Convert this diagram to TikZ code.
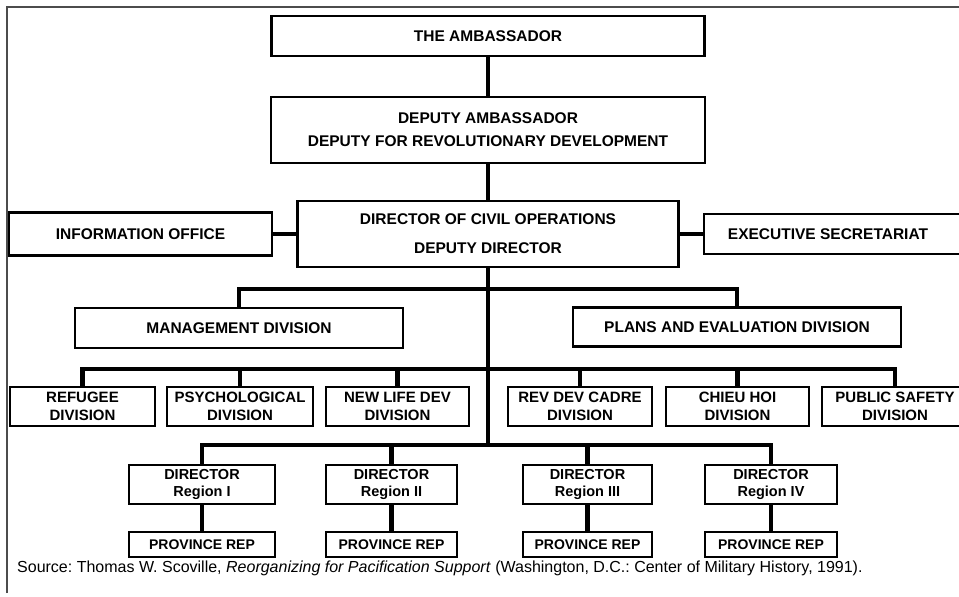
\documentclass[tikz,border=0pt]{standalone}
\usepackage{fontspec}
\setmainfont{Liberation Sans}
\usepackage{tikz}
\usetikzlibrary{positioning}
\frenchspacing

\tikzset{
  unit/.style={draw, line width=2.2pt, inner sep=0pt, align=center, font=\bfseries\fontsize{15.5}{23}\selectfont},
  division/.style={unit, minimum height=39pt, font=\bfseries\fontsize{15}{18}\selectfont},
  region/.style={unit, minimum height=39pt, font=\bfseries\fontsize{14.5}{17}\selectfont},
  province/.style={unit, minimum height=25pt, font=\bfseries\fontsize{14}{16}\selectfont},
  link/.style={line width=4.5pt},
}

\begin{document}
\begin{tikzpicture}[x=1pt, y=-1pt]
            \useasboundingbox (0,0) rectangle (959,597);
            \clip (0,0) rectangle (959,597);
            % frame
            \draw[line width=2pt, black!70] (7,593) -- (7,7) -- (960,7);

            \draw (488,36) node[unit, minimum width=433pt, minimum height=40pt]        (amb) {THE AMBASSADOR};
            \draw (488,130) node[unit, minimum width=434pt, minimum height=66pt]       (dep) {DEPUTY AMBASSADOR\\DEPUTY FOR REVOLUTIONARY DEVELOPMENT};
            \draw (488,234) node[unit, minimum width=381pt, minimum height=66pt]       (dir) {DIRECTOR OF CIVIL OPERATIONS\\[6pt]DEPUTY DIRECTOR};
            \draw (140.5,234) node[unit, minimum width=263pt, minimum height=43pt]     (info) {INFORMATION OFFICE};
            \draw (840,234) node[unit, minimum width=272pt, minimum height=40pt]       (exec) {\hspace*{-12pt}EXECUTIVE SECRETARIAT\hspace*{12pt}};
            \draw (239,328) node[unit, minimum width=328pt, minimum height=40pt]       (mgmt) {MANAGEMENT DIVISION};
            \draw (737,327) node[unit, minimum width=328pt, minimum height=39pt]       (plans) {PLANS AND EVALUATION DIVISION};

            \draw (82.5,406.5) node[division, minimum width=145pt]                     (ref) {REFUGEE\\DIVISION};
            \draw (240,406.5) node[division, minimum width=146pt]                      (psy) {PSYCHOLOGICAL\\DIVISION};
            \draw (397.5,406.5) node[division, minimum width=143pt]                    (nld) {NEW LIFE DEV\\DIVISION};
            \draw (580,406.5) node[division, minimum width=144pt]                      (rdc) {REV DEV CADRE\\DIVISION};
            \draw (737.5,406.5) node[division, minimum width=143pt]                    (chh) {CHIEU HOI\\DIVISION};
            \draw (895,406.5) node[division, minimum width=146pt]                      (pub) {PUBLIC SAFETY\\DIVISION};

            \draw (202,484.5) node[region, minimum width=146pt]                        (r1) {DIRECTOR\\Region I};
            \draw (391.5,484.5) node[region, minimum width=131pt]                      (r2) {DIRECTOR\\Region II};
            \draw (587.5,484.5) node[region, minimum width=129pt]                      (r3) {DIRECTOR\\Region III};
            \draw (771,484.5) node[region, minimum width=132pt]                        (r4) {DIRECTOR\\Region IV};

            \draw (202,544.5) node[province, minimum width=146pt]                      (p1) {PROVINCE REP};
            \draw (391.5,544.5) node[province, minimum width=131pt]                    (p2) {PROVINCE REP};
            \draw (587.5,544.5) node[province, minimum width=129pt]                    (p3) {PROVINCE REP};
            \draw (771,544.5) node[province, minimum width=132pt]                      (p4) {PROVINCE REP};

            \coordinate (b1) at (488,289);
            \coordinate (b2) at (488,369);
            \coordinate (b3) at (488,445);

            \draw[link] (amb) -- (dep);
            \draw[link] (dep) -- (dir);
            \draw[link] (info) -- (dir);
            \draw[link] (dir) -- (exec);
            \draw[link] (dir.south) -- (b3);
            \draw[link] (mgmt.north) |- (b1) -| (plans.north);
            \draw[link] (ref.north) |- (b2) -| (pub.north);
            \draw[link] (b2 -| psy.north) -- (psy.north);
            \draw[link] (b2 -| nld.north) -- (nld.north);
            \draw[link] (b2 -| rdc.north) -- (rdc.north);
            \draw[link] (b2 -| chh.north) -- (chh.north);
            \draw[link] (r1.north) |- (b3) -| (r4.north);
            \draw[link] (b3 -| r2.north) -- (r2.north);
            \draw[link] (b3 -| r3.north) -- (r3.north);
            \draw[link] (r1) -- (p1);
            \draw[link] (r2) -- (p2);
            \draw[link] (r3) -- (p3);
            \draw[link] (r4) -- (p4);

            \node[anchor=base west, inner sep=0pt, font=\fontsize{16}{18}\selectfont] (src) at (17,572) {Source: Thomas W. Scoville, \textit{Reorganizing for Pacification Support} (Washington, D.C.: Center of Military History, 1991).};

            \end{tikzpicture}
\end{document}
